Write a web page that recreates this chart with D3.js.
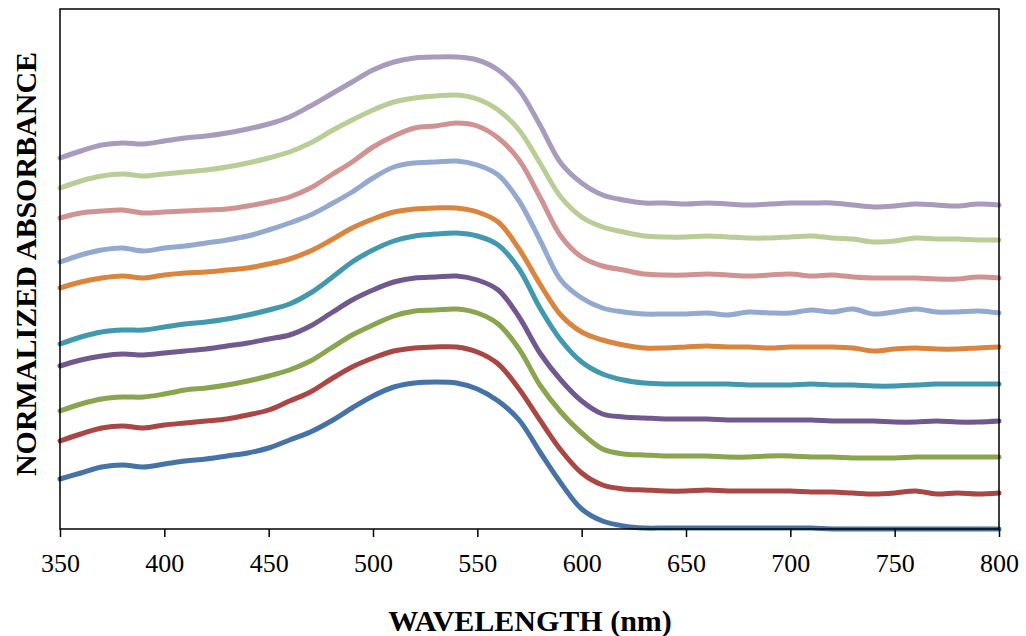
<!DOCTYPE html>
<html>
<head>
<meta charset="utf-8">
<script src="https://cdn.jsdelivr.net/npm/d3@7"></script>
<style>
  body { margin: 0; background: #fff; }
  svg { display: block; }
</style>
</head>
<body>
<svg id="chart" width="1026" height="636"></svg>
<script>
// ========= Data ========= //
const wavelengths = [350, 360, 370, 380, 390, 400, 410, 420, 430, 440, 450, 460, 470, 480, 490, 500,
  510, 520, 530, 540, 550, 560, 570, 580, 590, 600, 610, 620, 630, 640, 650, 660, 670, 680, 690, 700,
  710, 720, 730, 740, 750, 760, 770, 780, 790, 800];

const xTicks = [350, 400, 450, 500, 550, 600, 650, 700, 750, 800];

const seriesNames = ['S1', 'S2', 'S3', 'S4', 'S5', 'S6', 'S7', 'S8', 'S9', 'S10'];

const s1 = [0.50, 0.56, 0.62, 0.64, 0.62, 0.65, 0.68, 0.70, 0.73, 0.76, 0.81, 0.89, 0.97, 1.08, 1.21, 1.33,
  1.42, 1.46, 1.47, 1.46, 1.40, 1.28, 1.09, 0.77, 0.46, 0.20, 0.08, 0.03, 0.01, 0.01, 0.01, 0.01, 0.01, 0.01, 0.01, 0.01,
  0.01, 0.00, 0.00, 0.00, 0.00, 0.00, 0.00, 0.00, 0.00, 0.00];
const s2 = [0.88, 0.95, 1.01, 1.03, 1.01, 1.04, 1.06, 1.08, 1.10, 1.14, 1.19, 1.28, 1.37, 1.50, 1.62, 1.71,
  1.78, 1.81, 1.82, 1.82, 1.77, 1.65, 1.40, 1.09, 0.79, 0.56, 0.44, 0.40, 0.39, 0.38, 0.38, 0.39, 0.38, 0.38, 0.38, 0.38,
  0.37, 0.37, 0.36, 0.35, 0.36, 0.38, 0.35, 0.36, 0.35, 0.36];
const s3 = [1.18, 1.25, 1.30, 1.32, 1.32, 1.35, 1.39, 1.41, 1.44, 1.48, 1.53, 1.59, 1.68, 1.81, 1.94, 2.04,
  2.13, 2.18, 2.19, 2.20, 2.16, 2.05, 1.80, 1.44, 1.17, 0.96, 0.80, 0.75, 0.74, 0.73, 0.73, 0.73, 0.72, 0.72, 0.73, 0.73,
  0.72, 0.72, 0.71, 0.71, 0.71, 0.72, 0.72, 0.72, 0.72, 0.72];
const s4 = [1.63, 1.69, 1.73, 1.75, 1.74, 1.76, 1.78, 1.80, 1.83, 1.86, 1.90, 1.94, 2.03, 2.16, 2.29, 2.39,
  2.47, 2.51, 2.52, 2.53, 2.49, 2.39, 2.12, 1.76, 1.49, 1.28, 1.15, 1.12, 1.11, 1.10, 1.10, 1.10, 1.09, 1.09, 1.09, 1.09,
  1.09, 1.08, 1.08, 1.08, 1.07, 1.07, 1.08, 1.07, 1.07, 1.08];
const s5 = [1.85, 1.92, 1.97, 1.99, 1.99, 2.02, 2.05, 2.07, 2.10, 2.14, 2.19, 2.25, 2.36, 2.51, 2.67, 2.79,
  2.88, 2.93, 2.95, 2.96, 2.93, 2.84, 2.60, 2.21, 1.89, 1.67, 1.55, 1.49, 1.46, 1.45, 1.45, 1.45, 1.45, 1.44, 1.44, 1.44,
  1.45, 1.44, 1.44, 1.43, 1.43, 1.44, 1.45, 1.45, 1.45, 1.45];
const s6 = [2.41, 2.47, 2.51, 2.53, 2.51, 2.54, 2.56, 2.57, 2.59, 2.61, 2.65, 2.70, 2.78, 2.89, 3.01, 3.10,
  3.17, 3.20, 3.21, 3.21, 3.17, 3.07, 2.80, 2.45, 2.14, 1.97, 1.89, 1.84, 1.81, 1.81, 1.82, 1.83, 1.82, 1.82, 1.81, 1.82,
  1.82, 1.82, 1.81, 1.78, 1.80, 1.81, 1.80, 1.80, 1.81, 1.82];
const s7 = [2.67, 2.74, 2.79, 2.81, 2.78, 2.81, 2.83, 2.86, 2.89, 2.93, 2.99, 3.06, 3.14, 3.25, 3.37, 3.51,
  3.62, 3.66, 3.67, 3.68, 3.64, 3.54, 3.28, 2.89, 2.49, 2.31, 2.21, 2.17, 2.15, 2.15, 2.15, 2.16, 2.14, 2.17, 2.16, 2.16,
  2.19, 2.17, 2.20, 2.15, 2.17, 2.20, 2.17, 2.17, 2.18, 2.16];
const s8 = [3.11, 3.16, 3.18, 3.19, 3.16, 3.17, 3.18, 3.19, 3.20, 3.23, 3.27, 3.32, 3.41, 3.54, 3.67, 3.82,
  3.93, 4.01, 4.03, 4.06, 4.03, 3.91, 3.69, 3.32, 2.93, 2.72, 2.63, 2.59, 2.55, 2.54, 2.54, 2.55, 2.54, 2.53, 2.54, 2.55,
  2.53, 2.54, 2.52, 2.51, 2.51, 2.51, 2.50, 2.50, 2.52, 2.51];
const s9 = [3.41, 3.48, 3.53, 3.55, 3.53, 3.55, 3.57, 3.59, 3.62, 3.66, 3.71, 3.77, 3.86, 3.98, 4.09, 4.19,
  4.27, 4.31, 4.33, 4.34, 4.30, 4.19, 3.99, 3.66, 3.32, 3.12, 3.02, 2.97, 2.93, 2.92, 2.92, 2.93, 2.92, 2.91, 2.91, 2.92,
  2.93, 2.91, 2.90, 2.87, 2.88, 2.91, 2.90, 2.90, 2.89, 2.89];
const s10 = [3.71, 3.78, 3.84, 3.86, 3.85, 3.88, 3.91, 3.93, 3.96, 4.00, 4.05, 4.12, 4.23, 4.35, 4.47, 4.59,
  4.67, 4.71, 4.72, 4.72, 4.69, 4.59, 4.39, 4.04, 3.66, 3.46, 3.34, 3.29, 3.26, 3.26, 3.25, 3.26, 3.25, 3.24, 3.25, 3.26,
  3.26, 3.26, 3.24, 3.22, 3.23, 3.25, 3.24, 3.23, 3.25, 3.24];

const seriesValues = [s1, s2, s3, s4, s5, s6, s7, s8, s9, s10];

const colors = ['#4572A7', '#AA4643', '#89A54E', '#71588F', '#4198AF',
  '#DB843D', '#93A9CF', '#D19392', '#B9CD96', '#A99BBD'];

// ========= Layout ========= //
const margin = { left: 60, top: 9, right: 1026 - 999, bottom: 636 - 529 };
const width = 1026 - margin.left - margin.right;
const height = 636 - margin.top - margin.bottom;

const svg = d3.select('#chart');
const g = svg.append('g').attr('transform', `translate(${margin.left},${margin.top})`);

const x = d3.scaleLinear().domain([350, 800]).range([0, width]);
const y = d3.scaleLinear().domain([0, 5.2]).range([height, 0]);

// ========= Lines ========= //
const line = d3.line()
  .x((d, i) => x(wavelengths[i]))
  .y(d => y(d))
  .curve(d3.curveCatmullRom.alpha(0.5));

g.append('g')
  .attr('class', 'series')
  .selectAll('path')
  .data(seriesValues)
  .join('path')
    .attr('d', d => line(d))
    .attr('fill', 'none')
    .attr('stroke', (d, i) => colors[i])
    .attr('stroke-width', 5)
    .attr('stroke-linejoin', 'round')
    .attr('stroke-linecap', 'round');

// ========= Frame and axis ========= //
g.append('rect')
  .attr('width', width)
  .attr('height', height)
  .attr('fill', 'none')
  .attr('stroke', '#000')
  .attr('stroke-width', 1.5);

const xAxis = g.append('g')
  .attr('transform', `translate(0,${height})`)
  .call(d3.axisBottom(x).tickValues(xTicks).tickSize(8).tickSizeOuter(0).tickPadding(17));

xAxis.select('.domain').remove();
xAxis.selectAll('.tick line').attr('stroke', '#000').attr('stroke-width', 1.5);
xAxis.selectAll('.tick text')
  .attr('fill', '#000')
  .attr('font-family', '"Liberation Serif", "Times New Roman", serif')
  .attr('font-size', '26px');

// ========= Titles ========= //
svg.append('text')
  .attr('x', 530)
  .attr('y', 631)
  .attr('text-anchor', 'middle')
  .attr('font-family', '"Liberation Serif", "Times New Roman", serif')
  .attr('font-weight', 'bold')
  .attr('font-size', '30px')
  .text('WAVELENGTH (nm)');

svg.append('text')
  .attr('transform', `translate(36,${264}) rotate(-90)`)
  .attr('text-anchor', 'middle')
  .attr('font-family', '"Liberation Serif", "Times New Roman", serif')
  .attr('font-weight', 'bold')
  .attr('font-size', '30px')
  .text('NORMALIZED ABSORBANCE');
</script>
</body>
</html>
